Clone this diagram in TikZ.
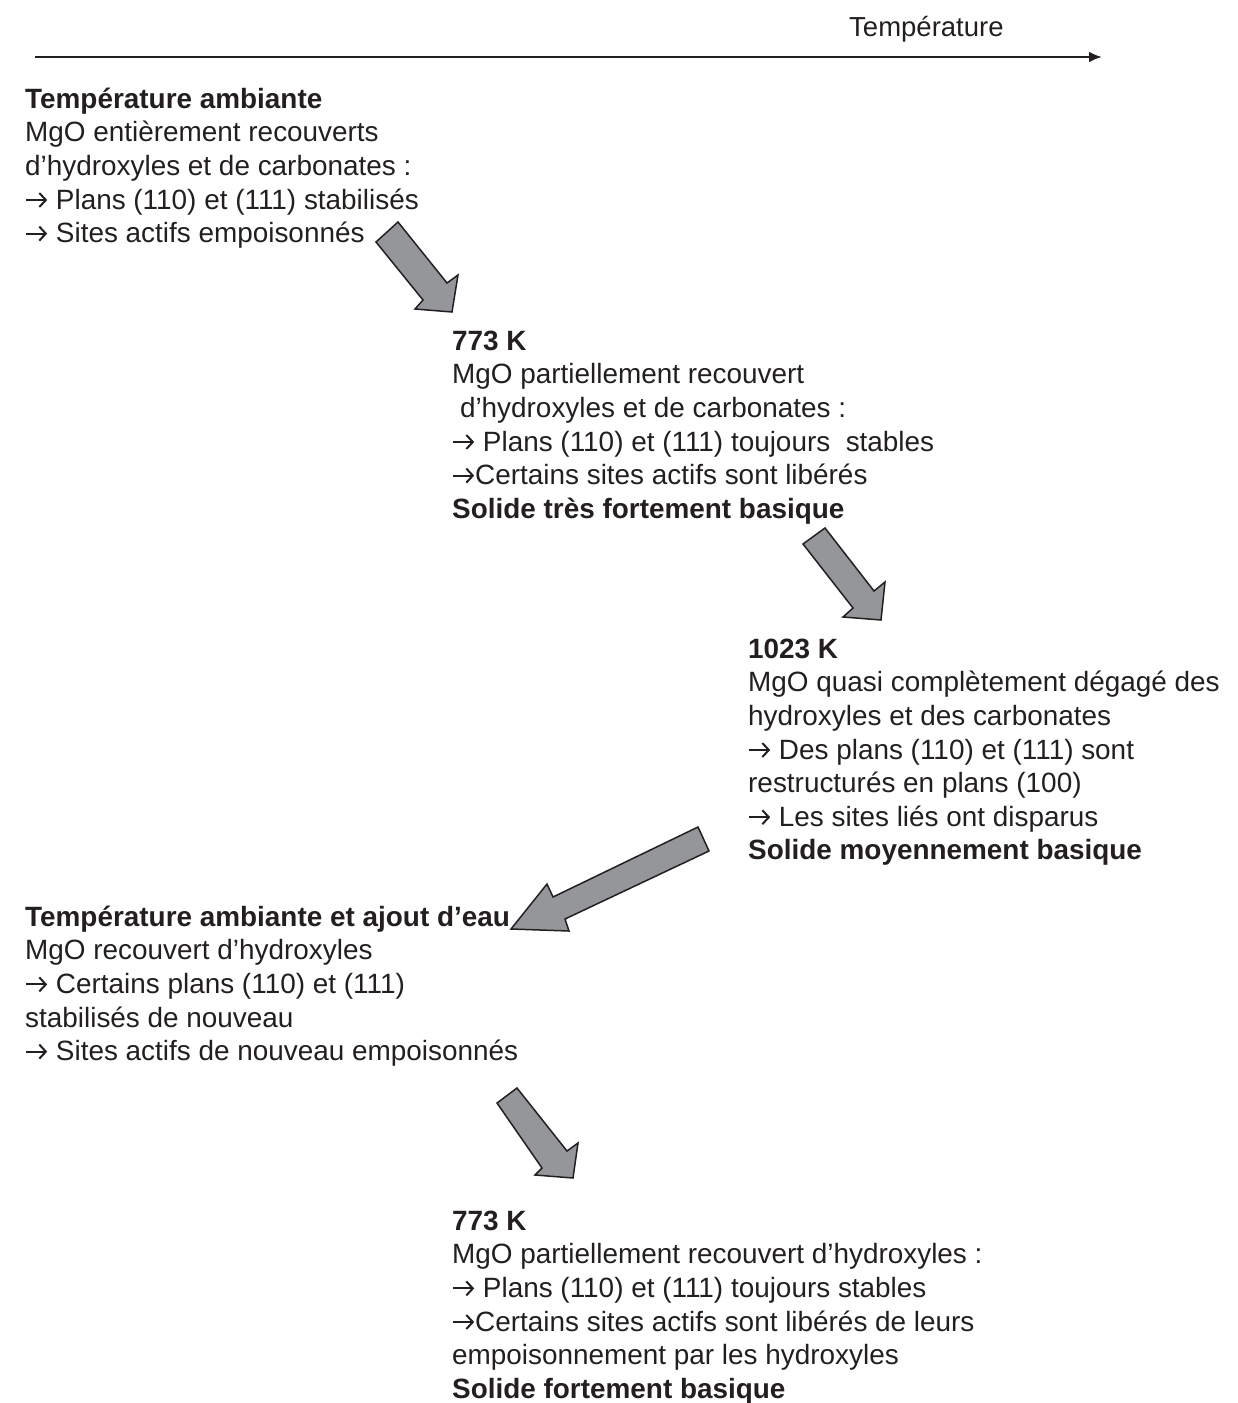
\documentclass[tikz,border=0pt]{standalone}
\usepackage{fontspec}
\setmainfont{Liberation Sans}
\usetikzlibrary{arrows.meta}
\definecolor{arrowgray}{RGB}{148,150,153}
\definecolor{inkblack}{RGB}{35,31,32}
\tikzset{
  txtblock/.style={anchor=north west, inner sep=0pt, align=left, text=inkblack,
    font={\fontsize{27.9}{33.6}\selectfont}},
  blockarrow/.style={draw=inkblack, line width=1.5pt, fill=arrowgray, line join=miter},
  axisline/.style={draw=inkblack, line width=2.4pt, -{Latex[length=13pt,width=11pt]}},
  glypharrow/.style={draw=inkblack, line width=2pt, -{Straight Barb[length=6.5pt,width=14pt,line width=2pt]}}
}
\newcommand{\fst}{\rule{0pt}{25pt}}
\newcommand{\ar}{\tikz[baseline=-9pt]{\path (0pt,-3pt) rectangle (23pt,3pt); \draw[glypharrow] (1pt,0pt) -- (22pt,0pt);}}
\begin{document}
\begin{tikzpicture}[x=1pt,y=-1pt]
\useasboundingbox (0,0) rectangle (1238,1403);

% temperature axis
\coordinate (axA) at (35,57);
\coordinate (axB) at (1102,57);
\draw[axisline] (axA) -- (axB);
\node[anchor=base west, inner sep=0pt, text=inkblack, font={\fontsize{27.5}{33.5}\selectfont}] (axlabel) at (849,36) {Température};

% text blocks
\node[txtblock] (b1) at (25,83) {\fst\textbf{Température ambiante}\\
MgO entièrement recouverts\\
d’hydroxyles et de carbonates :\\
\ar{} Plans (110) et (111) stabilisés\\
\ar{} Sites actifs empoisonnés};

\node[txtblock] (b2) at (452,325) {\fst\textbf{773 K}\\
MgO partiellement recouvert\\
\hspace*{0.28em}d’hydroxyles et de carbonates :\\
\ar{} Plans (110) et (111) toujours~ stables\\
\ar Certains sites actifs sont libérés\\
\textbf{Solide très fortement basique}};

\node[txtblock] (b3) at (748,633) {\fst\textbf{1023 K}\\
MgO quasi complètement dégagé des\\
hydroxyles et des carbonates\\
\ar{} Des plans (110) et (111) sont\\
restructurés en plans (100)\\
\ar{} Les sites liés ont disparus\\
\textbf{Solide moyennement basique}};

\node[txtblock] (b4) at (25,901) {\fst\textbf{Température ambiante et ajout d’eau}\\
MgO recouvert d’hydroxyles\\
\ar{} Certains plans (110) et (111)\\
stabilisés de nouveau\\
\ar{} Sites actifs de nouveau empoisonnés};

\node[txtblock] (b5) at (452,1205) {\fst\textbf{773 K}\\
MgO partiellement recouvert d’hydroxyles :\\
\ar{} Plans (110) et (111) toujours stables\\
\ar Certains sites actifs sont libérés de leurs\\
empoisonnement par les hydroxyles\\
\textbf{Solide fortement basique}};

% block arrows
\draw[blockarrow] (398,222) -- (447,283) -- (458,275) -- (452,312) -- (415,309) -- (423,300) -- (376,242) -- cycle;
\draw[blockarrow] (825,528) -- (874,591) -- (885,582) -- (881,620) -- (843,617) -- (853,608) -- (803,544) -- cycle;
\draw[blockarrow] (698,827) -- (709,851) -- (565,919) -- (569,931) -- (511,929) -- (547,884) -- (553,897) -- cycle;
\draw[blockarrow] (517,1088) -- (567,1151) -- (578,1143) -- (573,1178) -- (535,1175) -- (542,1168) -- (497,1103) -- cycle;
\end{tikzpicture}
\end{document}
